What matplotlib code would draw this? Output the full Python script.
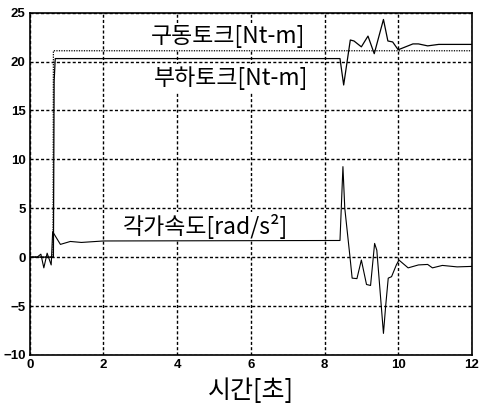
import matplotlib
matplotlib.use('Agg')
import matplotlib.pyplot as plt

plt.rcParams['font.family'] = ['Noto Sans CJK KR', 'DejaVu Sans']

# 구동토크 (점선), 부하토크 (실선), 각가속도 (실선) - 시간 [초]
t_drive = [0, 0.63, 0.64, 12]
drive_torque = [0, 0, 21.1, 21.1]

t_load = [0, 0.64, 0.66, 0.69, 8.42, 8.52, 8.7, 8.8, 9.0, 9.18, 9.35, 9.6,
          9.72, 9.85, 10.0, 10.2, 10.4, 10.55, 10.8, 11.1, 12]
load_torque = [0, 0, 18.0, 20.3, 20.3, 17.6, 22.2, 22.1, 21.5, 22.6, 20.8, 24.3,
               22.1, 22.0, 21.2, 21.5, 21.8, 21.8, 21.6, 21.75, 21.75]

t_acc = [0, 0.2, 0.3, 0.38, 0.47, 0.58, 0.62, 0.83, 1.1, 1.4, 2.0, 8.42,
         8.5, 8.55, 8.69, 8.75, 8.88, 9.0, 9.14, 9.25, 9.36, 9.42, 9.6, 9.66,
         9.73, 9.82, 9.95, 10.02, 10.27, 10.55, 10.8, 10.93, 11.2, 11.6, 12]
accel = [0, 0, 0.3, -1.1, 0.4, -0.8, 2.6, 1.3, 1.6, 1.5, 1.65, 1.7,
         9.25, 5.0, 0.06, -2.15, -2.2, -0.3, -2.8, -2.9, 1.4, 0.7, -7.8, -5.0,
         -2.15, -2.0, -0.8, -0.3, -1.1, -0.8, -0.75, -1.1, -0.85, -1.0, -0.95]

x_ticks = [0, 2, 4, 6, 8, 10, 12]
y_ticks = [-10, -5, 0, 5, 10, 15, 20, 25]

fig = plt.figure(figsize=(4.81, 4.07), dpi=100)
ax = fig.add_axes([0.062, 0.128, 0.919, 0.841])

ax.plot(t_drive, drive_torque, color='black', lw=0.9, ls=(0, (1, 1)), zorder=3)
ax.plot(t_load, load_torque, color='black', lw=0.9, zorder=3)
ax.plot(t_acc, accel, color='black', lw=0.8, zorder=3)

ax.set_xlim(0, 12)
ax.set_ylim(-10, 25)
ax.set_xticks(x_ticks)
ax.set_yticks(y_ticks)
ax.tick_params(direction='in', length=0, pad=3)
for lab in ax.get_xticklabels() + ax.get_yticklabels():
    lab.set_family(['Liberation Sans', 'DejaVu Sans'])
    lab.set_fontweight('bold')
    lab.set_fontsize(9.5)

ax.grid(True, color='black', lw=1.0, ls=(0, (2.2, 1.6)))
ax.set_axisbelow(True)
for sp in ax.spines.values():
    sp.set_linewidth(1.2)

box = dict(facecolor='white', edgecolor='none', pad=1.5)
ax.text(5.38, 22.6, '구동토크[Nt-m]', fontsize=16.5, ha='center', va='center', bbox=box, zorder=2)
ax.text(5.47, 18.3, '부하토크[Nt-m]', fontsize=16.5, ha='center', va='center', bbox=box, zorder=2)
ax.text(4.76, 3.1, '각가속도[rad/s²]', fontsize=16.5, ha='center', va='center', bbox=box, zorder=2)

ax.set_xlabel('시간[초]', fontsize=18, labelpad=5)

fig.savefig('out.png', dpi=100)
plt.close(fig)
